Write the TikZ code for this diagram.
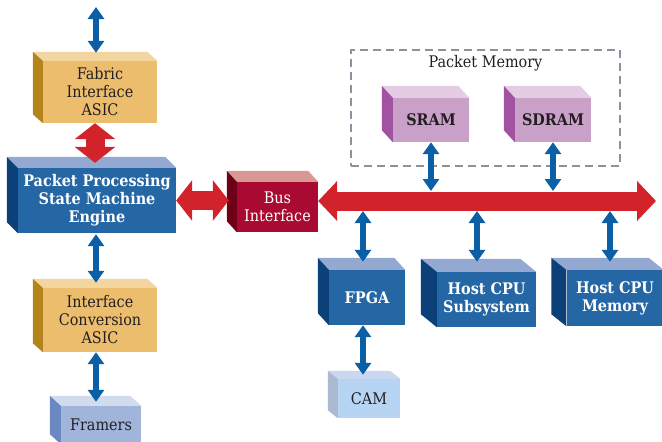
\documentclass[tikz,border=0pt]{standalone}
\usepackage{fontspec}
\setmainfont{DejaVu Serif Condensed}
\usetikzlibrary{arrows.meta,positioning}

\definecolor{orfront}{HTML}{EDBD6E}
\definecolor{ortop}{HTML}{F3D5A0}
\definecolor{orside}{HTML}{B4831B}
\definecolor{blfront}{HTML}{2566A5}
\definecolor{bltop}{HTML}{94A9D1}
\definecolor{blside}{HTML}{0B4079}
\definecolor{frfront}{HTML}{A1B4D9}
\definecolor{frtop}{HTML}{D1DBEE}
\definecolor{frside}{HTML}{6C88C0}
\definecolor{bufront}{HTML}{A80A32}
\definecolor{butop}{HTML}{D99894}
\definecolor{buside}{HTML}{6E0017}
\definecolor{pufront}{HTML}{C8A0C8}
\definecolor{putop}{HTML}{E4CDE4}
\definecolor{puside}{HTML}{A152A1}
\definecolor{cafront}{HTML}{B7D5F3}
\definecolor{catop}{HTML}{C9D7F1}
\definecolor{caside}{HTML}{ABBAD1}
\definecolor{busred}{HTML}{D2232A}
\definecolor{linkblue}{HTML}{0B5FA6}
\definecolor{dashgray}{HTML}{8C919C}
\definecolor{ink}{HTML}{231F20}

\begin{document}
\begin{tikzpicture}[x=1pt,y=-1pt,
   box/.style={inner sep=0pt,align=center,font=\fontsize{16}{18}\selectfont},
   lightbox/.style={box,text=ink},
   darkbox/.style={box,text=white,font=\fontsize{16}{18}\selectfont\bfseries},
   bluelink/.style={linkblue,line width=6pt,
      {Triangle[length=12pt,width=16pt]}-{Triangle[length=12pt,width=16pt]}},
   redlink/.style={busred,line width=19pt,
      {Triangle[length=16pt,width=40pt]}-{Triangle[length=16pt,width=40pt]}},
   bushead/.style={{Triangle[length=19pt,width=39pt]}-{Triangle[length=19pt,width=39pt]}}]
   \useasboundingbox (0,0) rectangle (662,442);

   \node[draw=dashgray,line width=2pt,dash pattern=on 8pt off 5pt,
      minimum width=269pt,minimum height=116pt] (pm) at (485.5,108) {};
   \node[lightbox,below=6pt of pm.north] (pmlabel) {Packet Memory};

   \node[lightbox,fill=orfront,minimum width=114pt,minimum height=62pt] (fab) at (100,92) {Fabric\\Interface\\ASIC};
   \node[darkbox,fill=blfront,minimum width=158pt,minimum height=65pt] (ppe) at (97,200.5) {Packet Processing\\State Machine\\Engine};
   \node[lightbox,fill=orfront,minimum width=114pt,minimum height=64pt] (icv) at (100,320) {Interface\\Conversion\\ASIC};
   \node[lightbox,fill=frfront,minimum width=80pt,minimum height=38pt] (frm) at (101,425) {Framers};
   \node[box,text=white,fill=bufront,minimum width=81pt,minimum height=50pt] (bus) at (277.5,207) {Bus\\Interface};
   \node[lightbox,font=\fontsize{16}{18}\selectfont\bfseries,fill=pufront,minimum width=76pt,minimum height=44pt] (sram) at (431,120) {SRAM};
   \node[lightbox,font=\fontsize{16}{18}\selectfont\bfseries,fill=pufront,minimum width=76pt,minimum height=44pt] (sdram) at (553,120) {SDRAM};
   \node[darkbox,fill=blfront,minimum width=76pt,minimum height=55pt] (fpga) at (367,297.5) {FPGA};
   \node[darkbox,fill=blfront,minimum width=99pt,minimum height=55pt] (hcs) at (486.5,299.5) {Host CPU\\Subsystem};
   \node[darkbox,fill=blfront,minimum width=97pt,minimum height=56pt] (hcm) at (615,298) {Host CPU\\Memory};
   \node[lightbox,fill=cafront,minimum width=62pt,minimum height=39pt] (cam) at (369,398.5) {CAM};

   % top and side faces
   \foreach \n/\dx/\dy/\tc/\sc in {fab/10/9/ortop/orside, ppe/11/11/bltop/blside,
      icv/10/9/ortop/orside, frm/11/10/frtop/frside, bus/10/11/butop/buside,
      sram/11/12/putop/puside, sdram/11/12/putop/puside, fpga/11/12/bltop/blside,
      hcs/16/13/bltop/blside, hcm/15/12/bltop/blside, cam/10/8/catop/caside}{
      \fill[\tc] (\n.north west) -- ++(-\dx pt,\dy pt) -- ([shift={(-\dx pt,\dy pt)}]\n.north east) -- (\n.north east) -- cycle;
      \fill[\sc] (\n.north west) -- ++(-\dx pt,\dy pt) -- ([shift={(-\dx pt,\dy pt)}]\n.south west) -- (\n.south west) -- cycle;
   }

   \coordinate (top) at (96,7);
   \coordinate (busend) at (656,201);
   \path ([xshift=-4pt,yshift=8pt]fpga.north) coordinate (fpgain)
         ([xshift=-9.5pt,yshift=10pt]hcs.north) coordinate (hcsin)
         ([xshift=-5pt,yshift=8pt]hcm.north) coordinate (hcmin);

   \draw[bluelink] (top) -- ([xshift=-4pt,yshift=8pt]fab.north);
   \draw[redlink] ([xshift=-5pt]fab.south) -- ([xshift=-2pt,yshift=5pt]ppe.north);
   \draw[bluelink] ([xshift=-1pt,yshift=-1pt]ppe.south) -- ([xshift=-4pt,yshift=5pt]icv.north);
   \draw[bluelink] ([xshift=-4pt]icv.south) -- ([xshift=-5pt,yshift=4pt]frm.north);
   \draw[redlink,shorten >=8pt] (ppe.east) -- (ppe.east -| bus.west);
   \draw[redlink,bushead] (bus.east |- busend) -- (busend);
   \draw[bluelink,shorten >=10pt] (sram.south) -- (sram.south |- busend);
   \draw[bluelink,shorten >=10pt] (sdram.south) -- (sdram.south |- busend);
   \draw[bluelink,shorten >=10pt] (fpgain) -- (fpgain |- busend);
   \draw[bluelink,shorten >=10pt] (hcsin) -- (hcsin |- busend);
   \draw[bluelink,shorten >=10pt] (hcmin) -- (hcmin |- busend);
   \draw[bluelink] ([xshift=-4pt]fpga.south) -- ([xshift=-6pt,yshift=4pt]cam.north);
\end{tikzpicture}
\end{document}
